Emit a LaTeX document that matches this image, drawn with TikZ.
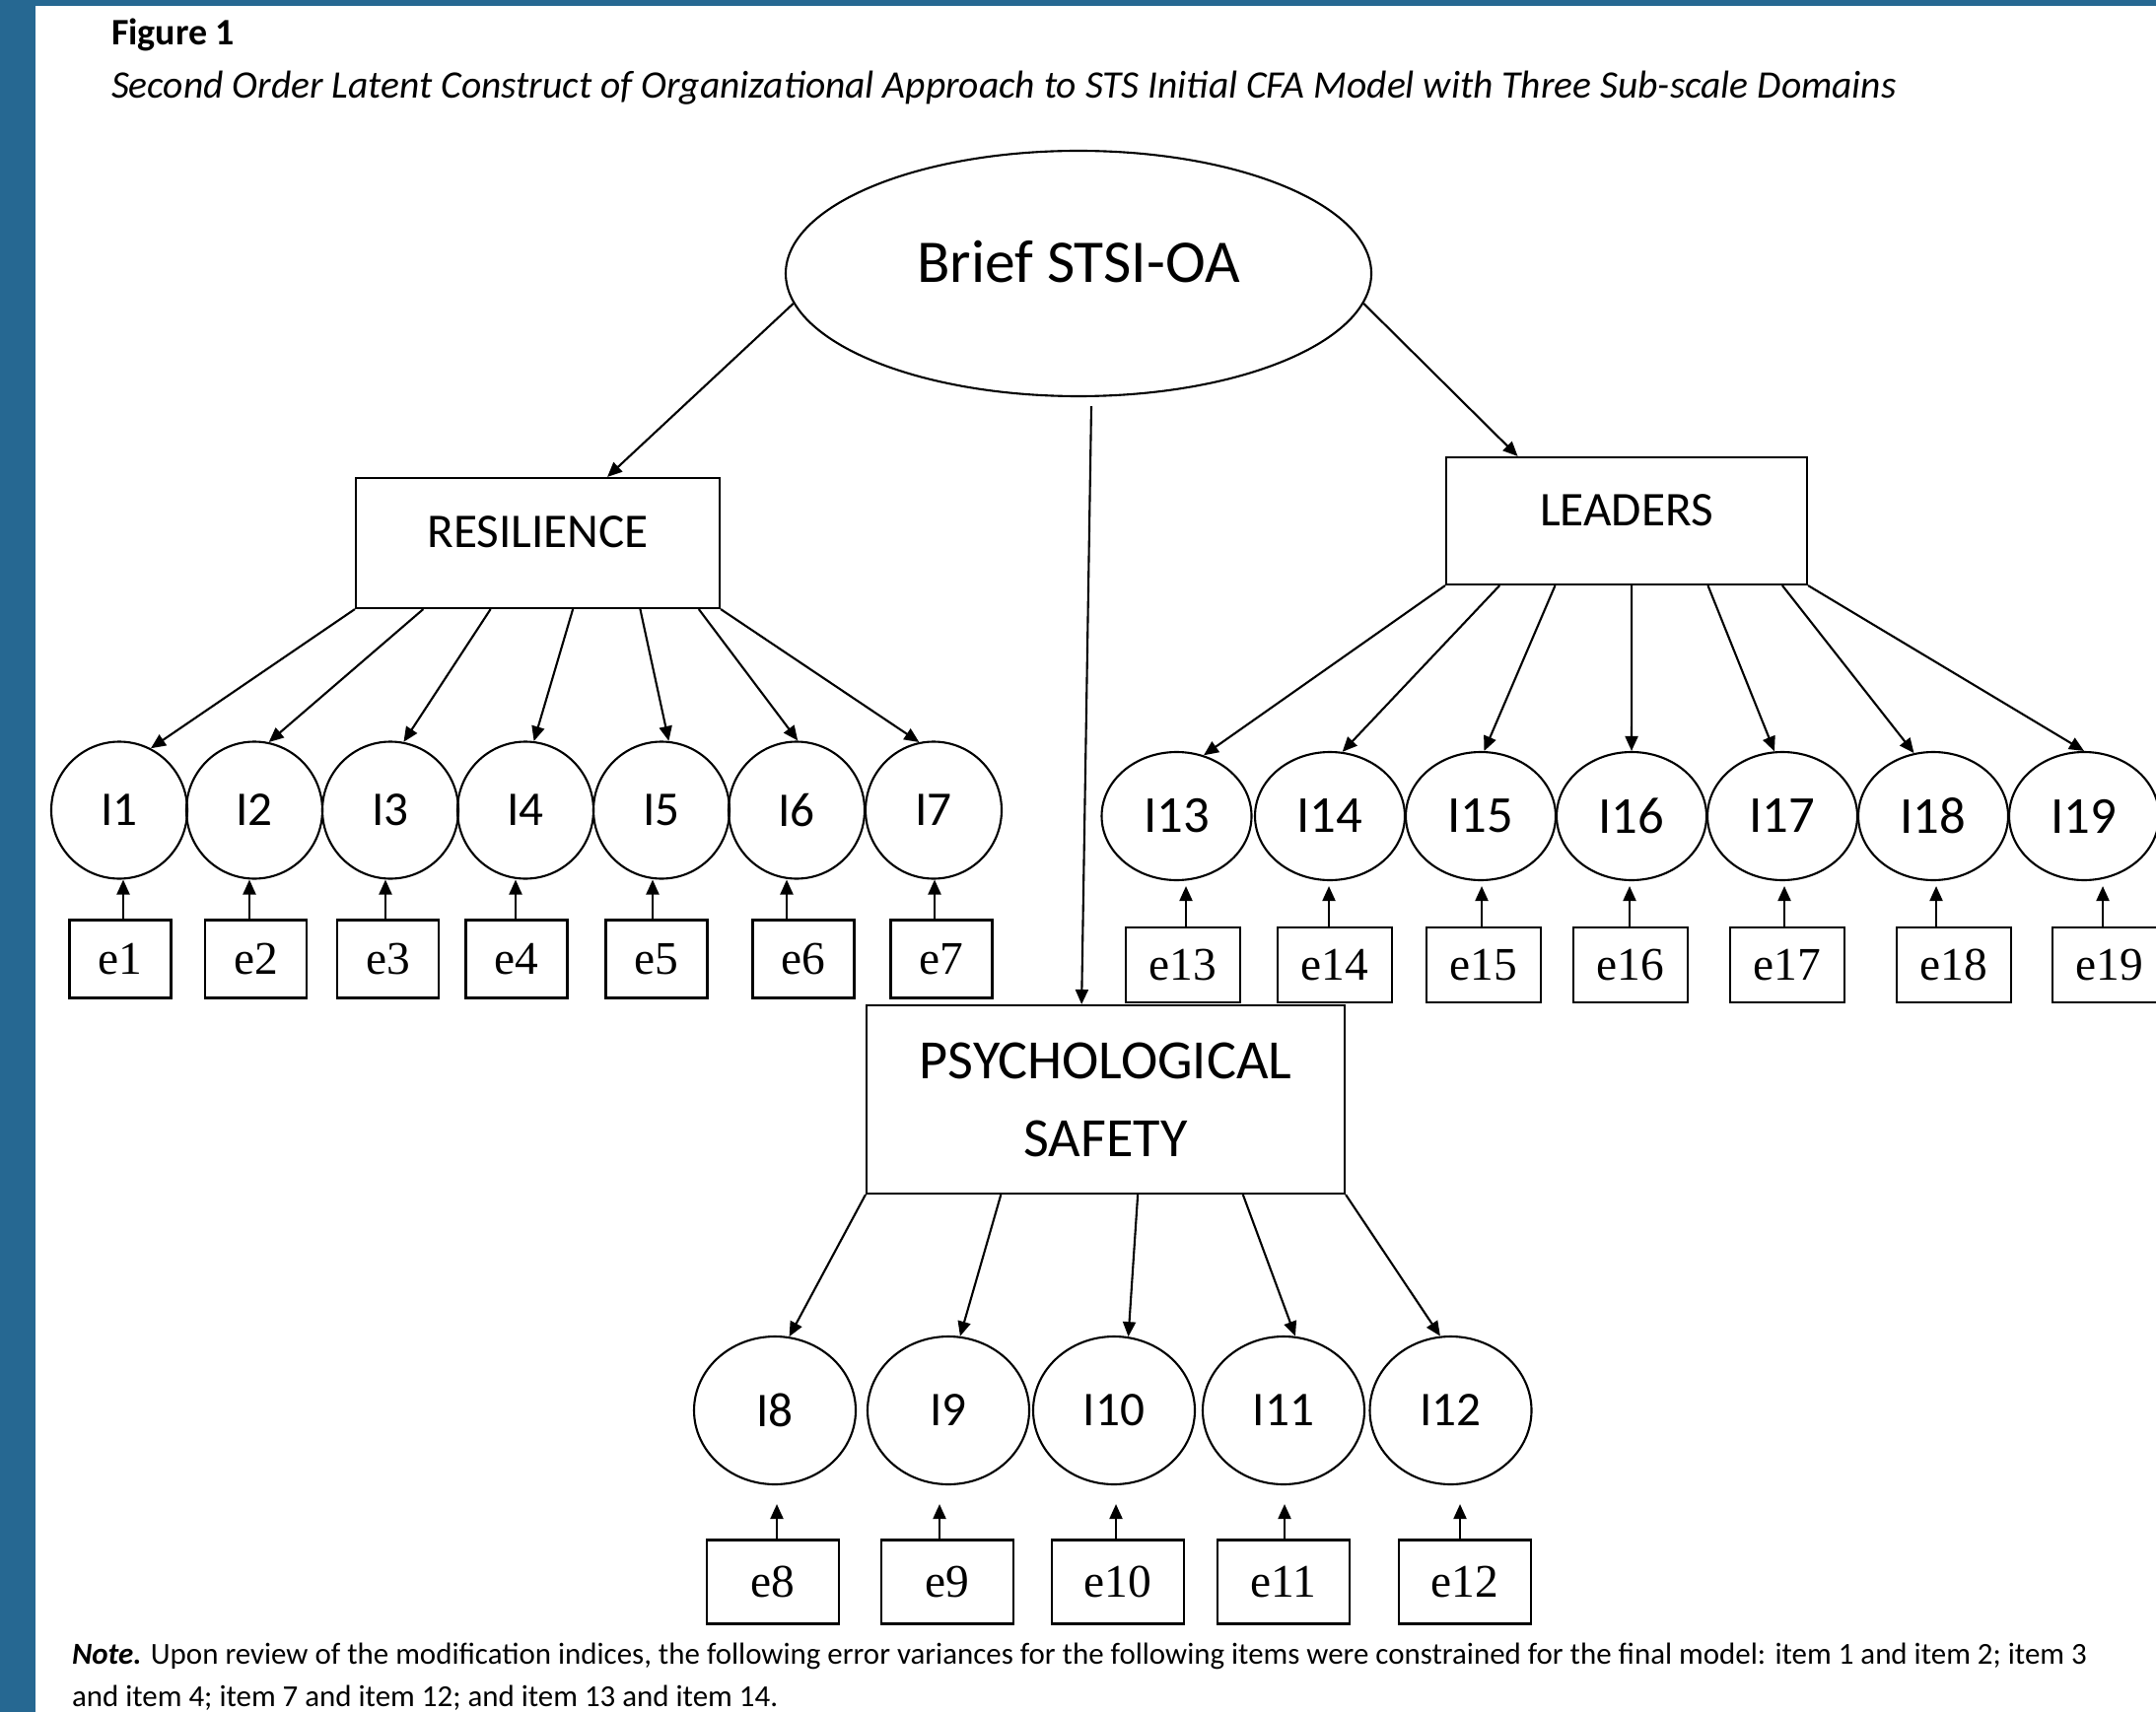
\documentclass[tikz,border=0pt]{standalone}
\usepackage{fontspec}
\setmainfont{Carlito}
\newfontfamily\errfont{Liberation Serif}
\usepackage{tikz}
\usetikzlibrary{arrows.meta,shapes.geometric,calc}
\definecolor{frameblue}{RGB}{38,104,146}
\tikzset{
  lv/.style={draw, ellipse, inner sep=0pt, font=\fontsize{14}{16}\selectfont},
  ev/.style={draw, rectangle, inner sep=0pt, font=\errfont\fontsize{13.5}{16}\selectfont},
  fac/.style={draw, rectangle, inner sep=0pt, align=center, font=\fontsize{14}{17}\selectfont},
  ld/.style={-{Triangle[length=1.5mm, width=1.3mm]}},
  tcap/.style={anchor=base west, inner sep=0pt}
}

\begin{document}
\begin{tikzpicture}[x=0.1mm, y=-0.1mm, line width=0.6pt]
\useasboundingbox (0,0) rectangle (2187,1737);
\fill[white] (0,0) rectangle (2187,1737);
\fill[frameblue] (0,0) rectangle (36,1737);
\fill[frameblue] (0,0) rectangle (2187,6);

% caption
\node[tcap, font=\bfseries\fontsize{10.8}{13}\selectfont] (fig) at (112,46) {Figure 1};
\node[tcap, font=\itshape\fontsize{11.24}{14}\selectfont] (title) at (112,100)
  {Second Order Latent Construct of Organizational Approach to STS Initial CFA Model with Three Sub-scale Domains};

% second order factor and domains
\node[lv, minimum width=59.4mm, minimum height=24.9mm, text height=4.4mm, text depth=2.5mm,
  font=\fontsize{17.5}{20}\selectfont] (sts) at (1094,277.5) {Brief STSI-OA};
\node[fac, minimum width=36.9mm, minimum height=13.2mm, text height=3.6mm, text depth=2.6mm] (res) at (545.5,551) {RESILIENCE};
\node[fac, minimum width=36.6mm, minimum height=12.9mm, text height=3.6mm, text depth=2.6mm] (lead) at (1650,528.5) {LEADERS};
\node[fac, minimum width=48.5mm, minimum height=19.1mm, font=\fontsize{16}{22.5}\selectfont] (psy) at (1121.5,1115.5) {PSYCHOLOGICAL\\SAFETY};

\draw[ld] (sts.186) -- ($(res.north west)!0.69!(res.north east)$);
\draw[ld] (sts.354) -- ($(lead.north west)!0.2!(lead.north east)$);
\draw[ld] ($(sts.south)+(13,9)$) -- ($(psy.north west)!0.45!(psy.north east)$);

% resilience items
\foreach \k/\x/\lx/\ex/\a/\f in {1/121/125/122/63/0, 2/258/253/259.5/78/0.187, 3/396/391/393.5/79/0.371,
    4/533/523/524/83/0.596, 5/671/662/666/84/0.78, 6/808/798/815/89/0.94, 7/947/948/955/102.5/1} {
  \node[lv, minimum width=13.8mm, minimum height=13.9mm] (i\k) at (\x,822) {I\k};
  \node[ev, minimum width=10.3mm, minimum height=7.9mm] (e\k) at (\ex,973) {e\k};
  \draw[ld] ($(res.south west)!\f!(res.south east)$) -- (i\k.\a);
  \draw[ld] (\lx,0 |- e\k.north) -- (\lx,0 |- i\k.south);
}

% leaders items
\foreach \k/\x/\lx/\ex/\a/\f in {13/1193.5/1203/1200/66/0, 14/1349/1348/1354/79/0.15, 15/1502/1503/1505/87/0.303,
    16/1655/1653/1654/90/0.514, 17/1808/1810/1813/97/0.724, 18/1961/1964/1982/107/0.929, 19/2114/2133/2140/90/1} {
  \node[lv, minimum width=15.2mm, minimum height=13mm, font=\fontsize{15}{17}\selectfont] (i\k) at (\x,828) {I\k};
  \node[ev, minimum width=11.6mm, minimum height=7.6mm] (e\k) at (\ex,979) {e\k};
  \draw[ld] ($(lead.south west)!\f!(lead.south east)$) -- (i\k.\a);
  \draw[ld, shorten >=0.5mm] (\lx,0 |- e\k.north) -- (\lx,0 |- i\k.south);
}

% psychological safety items
\foreach \k/\x/\lx/\ex/\a/\f in {8/786/788/784/79/0, 9/962/953/961/81.6/0.282, 10/1130/1132/1134/79/0.567,
    11/1302/1303/1302/81/0.786, 12/1471.5/1481/1486/98.4/1} {
  \node[lv, minimum width=16.4mm, minimum height=15mm] (i\k) at (\x,1431) {I\k};
  \node[ev, minimum width=13.4mm, minimum height=8.5mm] (e\k) at (\ex,1605) {e\k};
  \draw[ld] ($(psy.south west)!\f!(psy.south east)$) -- (i\k.\a);
  \draw[ld, shorten >=1.9mm] (\lx,0 |- e\k.north) -- (\lx,0 |- i\k.south);
}

% note
\node[tcap, align=left, font=\fontsize{8.8}{12}\selectfont] (note) at (72,1731)
  {\textbf{\textit{Note.}} Upon review of the modification indices, the following error variances for the following items were constrained for the final model: item 1 and item 2; item 3\\
   and item 4; item 7 and item 12; and item 13 and item 14.};
\end{tikzpicture}
\end{document}
